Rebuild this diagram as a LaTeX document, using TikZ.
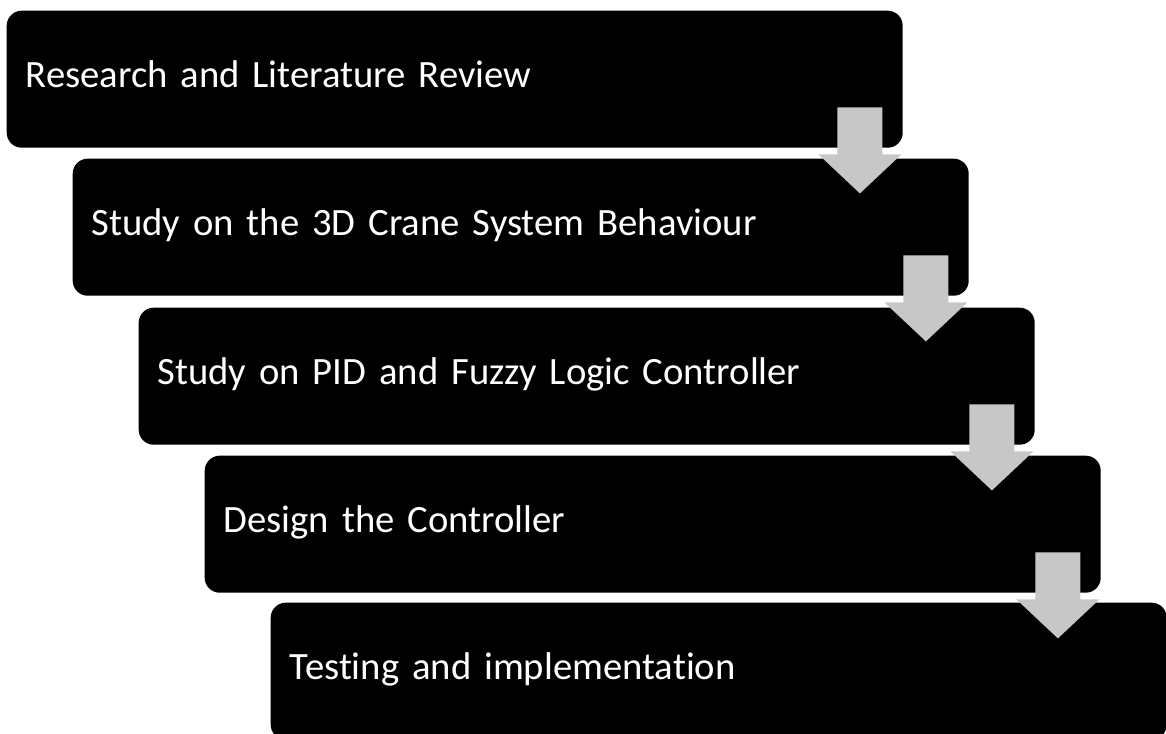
\documentclass[tikz,border=0pt]{standalone}
\usepackage{fontspec}
\setmainfont{Carlito}[Ligatures={NoCommon,NoContextual}, Contextuals=NoAlternate]
\tikzset{
  stage/.style={anchor=north west, fill=black, text=white, rounded corners=0.15cm,
    minimum width=8.96cm, minimum height=1.37cm, text width=8.58cm,
    text height=0.28cm, text depth=0.12cm,
    inner xsep=0.19cm, align=left, font=\fontsize{11}{13}\selectfont},
  downarr/.style={fill=black!22}
}
\begin{document}
\begin{tikzpicture}
\useasboundingbox (0,0) rectangle (11.66,-7.34);
\node [stage] (s1) at (0.06,-0.10) {Research and Literature Review};
\node [stage] (s2) at (0.72,-1.58) {Study on the 3D Crane System Behaviour};
\node [stage] (s3) at (1.38,-3.07) {Study on PID and Fuzzy Logic Controller};
\node [stage] (s4) at (2.04,-4.55) {Design the Controller};
\node [stage] (s5) at (2.70,-6.02) {Testing and implementation};
% grey arrows from each stage down to the next one
\foreach \a in {s1, s2, s3, s4}
  \fill [downarr] ([xshift=-0.66cm,yshift=0.41cm]\a.south east) -- ++(0.45,0)
    -- ++(0,-0.47) -- ++(0.19,0) -- ++(-0.415,-0.39) -- ++(-0.415,0.39)
    -- ++(0.19,0) -- cycle;
\end{tikzpicture}
\end{document}
